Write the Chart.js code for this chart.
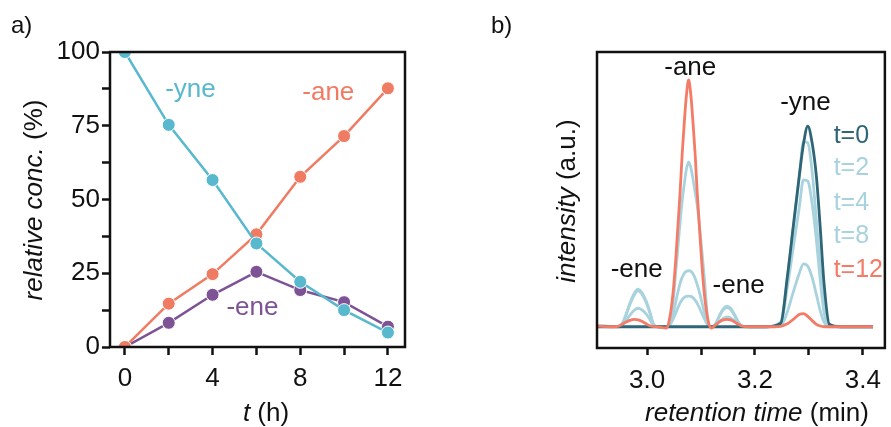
<!DOCTYPE html>
<html>
<head>
<meta charset="utf-8">
<script src="https://cdn.jsdelivr.net/npm/chart.js@4.4.1/dist/chart.umd.min.js"></script>
<style>
  html, body { margin: 0; padding: 0; background: #fff; }
  body { width: 891px; height: 427px; position: relative; overflow: hidden;
         font-family: 'Liberation Sans', Arial, sans-serif; color: #111; }
  canvas { position: absolute; top: 0; }
  #chartA { left: 0; }
  #chartB { left: 480px; }
  .lbl { position: absolute; font-size: 26px; line-height: 26px; white-space: nowrap; }
  .panel { font-size: 24px; line-height: 24px; }
  .rot { width: 300px; text-align: center; transform: rotate(-90deg); }
  .xt { width: 300px; text-align: center; }
</style>
</head>
<body>
<canvas id="chartA" width="440" height="427"></canvas>
<canvas id="chartB" width="411" height="427"></canvas>

<div class="lbl panel" style="left:11px; top:13px;">a)</div>
<div class="lbl panel" style="left:491px; top:13px;">b)</div>
<div class="lbl rot" style="left:-117px; top:187px;"><i>relative conc.</i> (%)</div>
<div class="lbl xt" style="left:116px; top:399px;"><i>t</i> (h)</div>
<div class="lbl rot" style="left:416px; top:188px;"><i>intensity</i> (a.u.)</div>
<div class="lbl xt" style="left:607px; top:399px;"><i>retention time</i> (min)</div>

<script>
// panel a: relative concentration vs time
const hours = [0, 2, 4, 6, 8, 10, 12];
const yneConc = [100, 75.3, 56.6, 35.1, 22.1, 12.5, 4.9];
const aneConc = [0, 14.7, 24.7, 38.2, 57.7, 71.5, 87.7];
const eneConc = [0, 8.2, 17.7, 25.5, 19.3, 15.2, 6.9];

const hourTicks = [0, 2, 4, 6, 8, 10, 12];
const hourLabels = [0, 4, 8, 12];
const concTicks = [0, 12.5, 25, 37.5, 50, 62.5, 75, 87.5, 100];
const concLabels = [0, 25, 50, 75, 100];

// panel b: chromatograms (retention time grid + one intensity trace per sample time)
// rows: baseline + first -ene peak | -ane peak | second -ene peak | -yne peak + baseline
const rtGrid = [
  2.907, 2.93, 2.946, 2.952, 2.96, 2.968, 2.976, 2.983, 2.99, 2.998, 3.005, 3.012, 3.02,
  3.035, 3.04, 3.048, 3.053, 3.057, 3.061, 3.065, 3.069, 3.073, 3.077, 3.081, 3.085, 3.089, 3.093, 3.097, 3.101, 3.106, 3.114,
  3.12, 3.127, 3.134, 3.141, 3.148, 3.155, 3.162, 3.169, 3.176, 3.19,
  3.22, 3.248, 3.26, 3.271, 3.282, 3.29, 3.298, 3.306, 3.314, 3.321, 3.328, 3.338, 3.36, 3.39, 3.419
];
const trace0 = [
  0, 0, 0, 0, 0, 0, 0, 0, 0, 0, 0, 0, 0,
  0, 0, 0, 0, 0, 0, 0, 0, 0, 0, 0, 0, 0, 0, 0, 0, 0, 0,
  0, 0, 0, 0, 0, 0, 0, 0, 0, 0,
  0, 0.015, 0.2, 0.405, 0.608, 0.74, 0.813, 0.745, 0.608, 0.405, 0.18, 0.01, 0, 0, 0
];
const trace2 = [
  0.005, 0.002, 0, 0.003, 0.022, 0.047, 0.067, 0.075, 0.069, 0.052, 0.03, 0.005, 0,
  0, 0.002, 0.03, 0.055, 0.077, 0.096, 0.11, 0.119, 0.123, 0.124, 0.123, 0.118, 0.108, 0.094, 0.077, 0.057, 0.033, 0.003,
  0, 0.005, 0.02, 0.034, 0.04, 0.036, 0.024, 0.009, 0.001, 0,
  0, 0.02, 0.2, 0.4, 0.6, 0.75, 0.745, 0.63, 0.43, 0.24, 0.08, 0.005, 0, 0, 0
];
const trace4 = [
  0.005, 0.002, 0, 0.005, 0.042, 0.09, 0.128, 0.145, 0.133, 0.1, 0.057, 0.009, 0,
  0, 0.003, 0.05, 0.1, 0.14, 0.175, 0.2, 0.217, 0.225, 0.227, 0.225, 0.215, 0.197, 0.17, 0.14, 0.105, 0.06, 0.005,
  0, 0.011, 0.042, 0.068, 0.078, 0.07, 0.046, 0.018, 0.003, 0,
  0, 0.015, 0.16, 0.32, 0.48, 0.595, 0.59, 0.5, 0.35, 0.19, 0.06, 0.004, 0, 0, 0
];
const trace8 = [
  0.005, 0.002, 0, 0.006, 0.045, 0.095, 0.135, 0.152, 0.14, 0.105, 0.06, 0.01, 0,
  0, 0.005, 0.1, 0.22, 0.32, 0.42, 0.51, 0.58, 0.64, 0.668, 0.645, 0.6, 0.545, 0.49, 0.41, 0.32, 0.2, 0.01,
  0, 0.012, 0.045, 0.073, 0.084, 0.075, 0.05, 0.02, 0.003, 0,
  0, 0.005, 0.06, 0.14, 0.215, 0.255, 0.245, 0.2, 0.13, 0.065, 0.02, 0, 0, 0, 0
];
const trace12 = [
  0.003, 0, 0.002, 0.008, 0.018, 0.026, 0.03, 0.028, 0.022, 0.012, 0.004, 0.001, 0,
  -0.005, 0.015, 0.135, 0.27, 0.405, 0.54, 0.7, 0.83, 0.94, 1.0, 0.94, 0.83, 0.7, 0.54, 0.405, 0.27, 0.135, 0.015,
  -0.005, 0.008, 0.02, 0.028, 0.03, 0.028, 0.02, 0.01, 0.003, 0,
  0, 0.002, 0.012, 0.03, 0.05, 0.053, 0.042, 0.025, 0.01, 0.003, 0, 0, 0, 0, 0
];

const rtTicks = [3.0, 3.1, 3.2, 3.3, 3.4];
const rtLabels = [3.0, 3.2, 3.4];

const FONT = "'Liberation Sans', Arial, sans-serif";
const INK = '#111';
const CYAN = '#57b8ce';
const SALMON = '#f07b63';
const PURPLE = '#7d5396';
const TEAL = '#2e6577';
const LIGHT = '#a8d3de';
const RED = '#f47b65';

function pairs(xs, ys) {
  return xs.map((x, i) => ({ x: x, y: ys[i] }));
}

// box around the plot area
const framePlugin = {
  id: 'frame',
  afterDraw(chart) {
    const { ctx, chartArea: a } = chart;
    ctx.save();
    ctx.strokeStyle = INK;
    ctx.lineWidth = 2.5;
    ctx.strokeRect(a.left, a.top, a.right - a.left, a.bottom - a.top);
    ctx.restore();
  }
};

// text labels placed in data coordinates
function tagsPlugin(items) {
  return {
    id: 'tags',
    afterDatasetsDraw(chart) {
      const { ctx, scales } = chart;
      ctx.save();
      items.forEach(t => {
        ctx.font = t.size + 'px ' + FONT;
        ctx.fillStyle = t.color;
        ctx.textAlign = t.align || 'center';
        ctx.textBaseline = 'alphabetic';
        ctx.fillText(t.text, scales.x.getPixelForValue(t.x), scales.y.getPixelForValue(t.y));
      });
      ctx.restore();
    }
  };
}

function tickGrid(len) {
  return { drawOnChartArea: false, drawTicks: true, tickLength: len, tickWidth: 2.5, tickColor: INK };
}

// ---- panel a ----
new Chart(document.getElementById('chartA'), {
  type: 'line',
  data: {
    datasets: [
      { label: '-yne', data: pairs(hours, yneConc), borderColor: CYAN, backgroundColor: CYAN, order: 0 },
      { label: '-ane', data: pairs(hours, aneConc), borderColor: SALMON, backgroundColor: SALMON, order: 1 },
      { label: '-ene', data: pairs(hours, eneConc), borderColor: PURPLE, backgroundColor: PURPLE, order: 2 }
    ]
  },
  options: {
    responsive: false,
    animation: false,
    layout: { padding: { top: 52, right: 35, left: 0, bottom: 0 } },
    elements: {
      line: { borderWidth: 2.5, tension: 0 },
      point: { radius: 6.5, borderWidth: 1, borderColor: '#fff' }
    },
    datasets: { line: { clip: 0, pointBorderColor: '#fff', pointBorderWidth: 1 } },
    plugins: { legend: { display: false }, tooltip: { enabled: false } },
    scales: {
      x: {
        type: 'linear', min: -0.68, max: 12.78,
        border: { display: false },
        grid: tickGrid(8),
        afterBuildTicks: s => { s.ticks = hourTicks.map(v => ({ value: v })); },
        afterFit: s => { s.height = 80; },
        ticks: {
          autoSkip: false, maxRotation: 0, padding: 8, color: INK,
          font: { family: FONT, size: 26 },
          callback: v => hourLabels.includes(v) ? String(v) : ''
        }
      },
      y: {
        type: 'linear', min: 0, max: 100,
        border: { display: false },
        grid: tickGrid(8),
        afterBuildTicks: s => { s.ticks = concTicks.map(v => ({ value: v })); },
        afterFit: s => { s.width = 110; },
        ticks: {
          autoSkip: false, padding: 2, color: INK,
          font: { family: FONT, size: 26 },
          callback: v => concLabels.includes(v) ? String(v) : ''
        }
      }
    }
  },
  plugins: [framePlugin, tagsPlugin([
    { text: '-yne', x: 2.99, y: 84.9, color: CYAN, size: 26 },
    { text: '-ane', x: 9.28, y: 83.6, color: SALMON, size: 26 },
    { text: '-ene', x: 5.82, y: 10.85, color: PURPLE, size: 26 }
  ])]
});

// ---- panel b ----
new Chart(document.getElementById('chartB'), {
  type: 'line',
  data: {
    datasets: [
      { label: 't=12', data: pairs(rtGrid, trace12), borderColor: RED, order: 0 },
      { label: 't=0', data: pairs(rtGrid, trace0), borderColor: TEAL, order: 1 },
      { label: 't=2', data: pairs(rtGrid, trace2), borderColor: LIGHT, order: 2 },
      { label: 't=4', data: pairs(rtGrid, trace4), borderColor: LIGHT, order: 3 },
      { label: 't=8', data: pairs(rtGrid, trace8), borderColor: LIGHT, order: 4 }
    ]
  },
  options: {
    responsive: false,
    animation: false,
    layout: { padding: { top: 52, right: 2, left: 117, bottom: 0 } },
    elements: {
      line: { borderWidth: 2.8, cubicInterpolationMode: 'monotone' },
      point: { radius: 0 }
    },
    datasets: { line: { clip: 0 } },
    plugins: { legend: { display: false }, tooltip: { enabled: false } },
    scales: {
      x: {
        type: 'linear', min: 2.907, max: 3.441,
        border: { display: false },
        grid: tickGrid(7),
        afterBuildTicks: s => { s.ticks = rtTicks.map(v => ({ value: v })); },
        afterFit: s => { s.height = 79; },
        ticks: {
          autoSkip: false, maxRotation: 0, padding: 10, color: INK,
          font: { family: FONT, size: 26 },
          callback: v => rtLabels.some(l => Math.abs(l - v) < 1e-6) ? v.toFixed(1) : ''
        }
      },
      y: { type: 'linear', display: false, min: -0.086, max: 1.113 }
    }
  },
  plugins: [framePlugin, tagsPlugin([
    { text: '-ane', x: 3.080, y: 1.02, color: INK, size: 26 },
    { text: '-yne', x: 3.2936, y: 0.88, color: INK, size: 26 },
    { text: '-ene', x: 2.9807, y: 0.203, color: INK, size: 26 },
    { text: '-ene', x: 3.1697, y: 0.135, color: INK, size: 26 },
    { text: 't=0', x: 3.346, y: 0.743, color: TEAL, size: 25, align: 'left' },
    { text: 't=2', x: 3.346, y: 0.615, color: LIGHT, size: 25, align: 'left' },
    { text: 't=4', x: 3.346, y: 0.473, color: LIGHT, size: 25, align: 'left' },
    { text: 't=8', x: 3.346, y: 0.338, color: LIGHT, size: 25, align: 'left' },
    { text: 't=12', x: 3.346, y: 0.203, color: RED, size: 25, align: 'left' }
  ])]
});
</script>
</body>
</html>
